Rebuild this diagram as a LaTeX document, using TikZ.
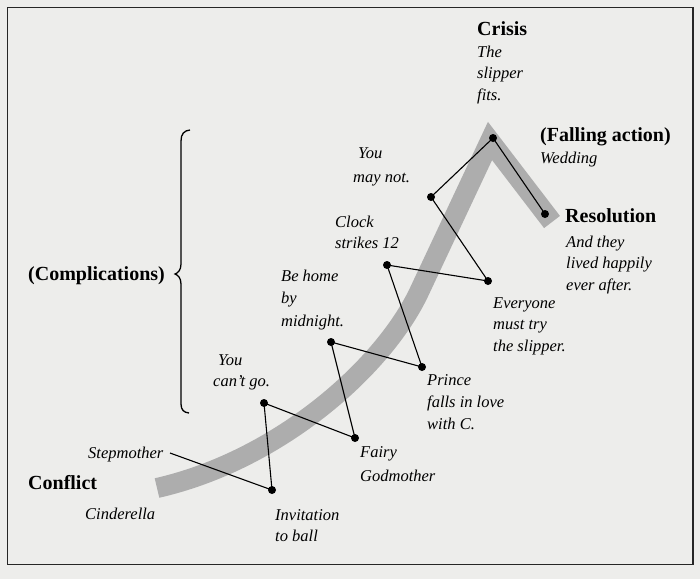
\documentclass[tikz,border=0pt]{standalone}
\usepackage{fontspec}
\setmainfont{Liberation Serif}
\newcommand{\mlines}[1]{\begin{tabular}[t]{@{}l@{}}#1\end{tabular}}
\definecolor{paper}{HTML}{EDEDEB}
\definecolor{band}{HTML}{ADADAD}
\begin{document}
\begin{tikzpicture}[x=1pt,y=-1pt,
  boldlab/.style={anchor=base west,inner sep=0pt,font=\fontsize{20}{22}\selectfont\bfseries},
  itlab/.style={anchor=base west,inner sep=0pt,font=\fontsize{16.5}{21.5}\selectfont\itshape},
  dot/.style={circle,fill=black,inner sep=0pt,minimum size=8pt},
  link/.style={draw=black,line width=1.1pt},
  bracepath/.style={draw=black,line width=1.3pt},
  arc band/.style={draw=band,line width=20pt,line join=miter,miter limit=10,line cap=butt}]
\useasboundingbox (0,0) rectangle (700,579);
\fill[paper] (0,0) rectangle (700,579);
\draw[black!85,line width=1.6pt] (7.5,7.5) rectangle (693,564.5);
% plot band
\draw[arc band] (157,488) .. controls (280,460) and (385,366) .. (420,290) -- (490,141) -- (552,222);
% brace
\draw[bracepath] (190,130) .. controls (184,130.5) and (181,134) .. (181,141) -- (181,264)
  .. controls (181,270) and (178,273) .. (175,274) .. controls (178,275) and (181,278) .. (181,284)
  -- (181,404) .. controls (181,410) and (184,412.5) .. (189,413);
% dots
\node[dot] (inv) at (272,490) {};
\node[dot] (cant) at (264,403) {};
\node[dot] (fairy) at (355,438) {};
\node[dot] (behome) at (331,342) {};
\node[dot] (prince) at (422,367) {};
\node[dot] (clock) at (387,265) {};
\node[dot] (every) at (488,281) {};
\node[dot] (maynot) at (431,197) {};
\node[dot] (crisis) at (493,138) {};
\node[dot] (resol) at (545,214) {};
\coordinate (stepend) at (170,453);
% connectors
\draw[link] (stepend) -- (inv.center);
\draw[link] (inv.center) -- (cant.center) -- (fairy.center) -- (behome.center) -- (prince.center)
  -- (clock.center) -- (every.center) -- (maynot.center) -- (crisis.center) -- (resol.center);
% labels
\node[boldlab] (tcrisis) at (477,35) {Crisis};
\node[itlab] (tslipper) at (477,57) {\mlines{The\\slipper\\fits.}};
\node[boldlab] (tfall) at (540,141) {(Falling action)};
\node[itlab] (twed) at (540,163) {Wedding};
\node[boldlab] (tres) at (565,222) {Resolution};
\node[itlab] (tlived) at (566,247) {\mlines{And they\\lived happily\\ever after.}};
\node[itlab] (tmaynot) at (353,158) {\mlines{\hspace{5pt}You\\[2.5pt]may not.}};
\node[itlab] (tclock) at (335,227) {\mlines{Clock\\strikes 12}};
\node[boldlab] (tcompl) at (28,280) {(Complications)};
\node[itlab] (tbehome) at (281,281) {\mlines{Be home\\[0.5pt]by\\[1.5pt]midnight.}};
\node[itlab] (tcant) at (213,365) {\mlines{\hspace{5pt}You\\can't go.}};
\node[itlab] (tstep) at (88,458) {Stepmother};
\node[boldlab] (tconf) at (28,489) {Conflict};
\node[itlab] (tcind) at (85,519) {Cinderella};
\node[itlab] (tinv) at (275,520) {\mlines{Invitation\\to ball}};
\node[itlab] (tfairy) at (360,457) {\mlines{Fairy\\[3pt]Godmother}};
\node[itlab] (tprince) at (427,385) {\mlines{Prince\\[1pt]falls in love\\with C.}};
\node[itlab] (tevery) at (493,308) {\mlines{Everyone\\must try\\the slipper.}};
\end{tikzpicture}
\end{document}
